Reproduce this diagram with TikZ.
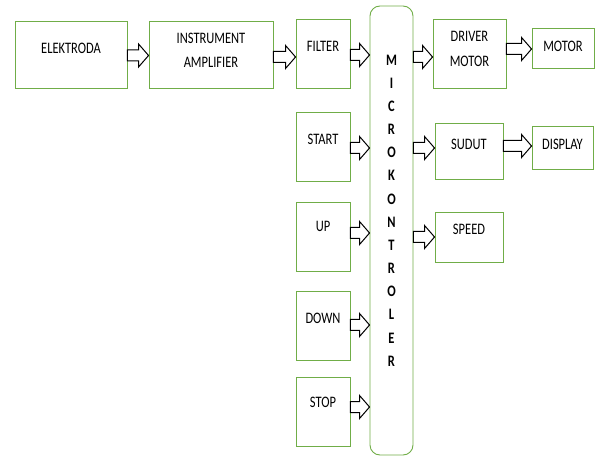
\documentclass[tikz,border=0pt]{standalone}
\usepackage{fontspec}
\setmainfont{Carlito}[FakeStretch=0.78]
\usetikzlibrary{calc}
\definecolor{boxgreen}{RGB}{112,173,71}
\tikzset{
  box/.style={draw=boxgreen, line width=0.9pt, inner sep=0pt},
  lbl/.style={font=\fontsize{16}{19}\selectfont, align=center, inner sep=0pt,
    execute at begin node=\setlength{\baselineskip}{24.5pt}},
  mlbl/.style={font=\fontsize{16}{19}\selectfont\bfseries, align=center, inner sep=0pt,
    execute at begin node=\setlength{\baselineskip}{23.15pt}},
  barrow/.style={draw=black, line width=1pt, fill=white, line join=miter,
    to path={let \p1=(\tikztostart), \p2=(\tikztotarget) in
      (\x1,\y1+5.5pt) -- (\x2-10pt,\y1+5.5pt) -- (\x2-10pt,\y1+11.5pt) -- (\x2,\y1)
      -- (\x2-10pt,\y1-11.5pt) -- (\x2-10pt,\y1-5.5pt) -- (\x1,\y1-5.5pt) -- cycle}}
}
\begin{document}
\begin{tikzpicture}[x=1pt,y=-1pt]
\useasboundingbox (0,0) rectangle (595,457);
% left chain
\node[box, minimum width=112pt, minimum height=67pt, label={[lbl,yshift=6.5pt]center:ELEKTRODA}] (elek) at (71,54.5) {};
\node[box, minimum width=124pt, minimum height=67pt, label={[lbl,yshift=4pt]center:INSTRUMENT\\AMPLIFIER}] (inst) at (211,54.5) {};
\node[box, minimum width=54pt, minimum height=69pt, label={[lbl,yshift=7.5pt]center:FILTER}] (filter) at (323,53.5) {};
\node[box, minimum width=54pt, minimum height=69pt, label={[lbl,yshift=7.5pt]center:START}] (start) at (323,146.5) {};
\node[box, minimum width=54pt, minimum height=69pt, label={[lbl,yshift=10.5pt]center:UP}] (up) at (323,236.5) {};
\node[box, minimum width=54pt, minimum height=69pt, label={[lbl,yshift=7.5pt]center:DOWN}] (down) at (323,325.5) {};
\node[box, minimum width=54pt, minimum height=69pt, label={[lbl,yshift=9.5pt]center:STOP}] (stop) at (323,411.5) {};
% microcontroller
\node[box, rounded corners=10pt, minimum width=43pt, minimum height=449pt,
  label={[mlbl,yshift=20pt]center:M\\I\\C\\R\\O\\K\\O\\N\\T\\R\\O\\L\\E\\R}] (micro) at (391.5,230.5) {};
% right side
\node[box, minimum width=73pt, minimum height=69pt, label={[lbl,yshift=4.5pt]center:DRIVER\\MOTOR}] (driver) at (469.5,53.5) {};
\node[box, minimum width=62pt, minimum height=40pt, label={[lbl,yshift=2pt]center:MOTOR}] (motor) at (563,48) {};
\node[box, minimum width=68pt, minimum height=56pt, label={[lbl,yshift=7pt]center:SUDUT}] (sudut) at (469,151) {};
\node[box, minimum width=61pt, minimum height=43pt, label={[lbl,yshift=3.5pt]center:DISPLAY}] (display) at (562.5,147.5) {};
\node[box, minimum width=68pt, minimum height=50pt, label={[lbl,yshift=8pt]center:SPEED}] (speed) at (469,237) {};
% arrows
\draw[barrow] (elek.east |- 0,55.5) to (inst.west |- 0,55.5);
\draw[barrow] (inst.east |- 0,57) to (filter.west |- 0,57);
\draw[barrow] (filter.east |- 0,55) to (micro.west |- 0,55);
\draw[barrow] (start.east |- 0,148) to (micro.west |- 0,148);
\draw[barrow] (up.east |- 0,233) to (micro.west |- 0,233);
\draw[barrow] (down.east |- 0,325) to (micro.west |- 0,325);
\draw[barrow] (stop.east |- 0,407) to (micro.west |- 0,407);
\draw[barrow] (micro.east |- 0,57) to (driver.west |- 0,57);
\draw[barrow] (micro.east |- 0,148) to (sudut.west |- 0,148);
\draw[barrow] (micro.east |- 0,237) to (speed.west |- 0,237);
\draw[barrow] (driver.east |- 0,49) to (motor.west |- 0,49);
\draw[barrow] (sudut.east |- 0,146) to (display.west |- 0,146);
\end{tikzpicture}
\end{document}
